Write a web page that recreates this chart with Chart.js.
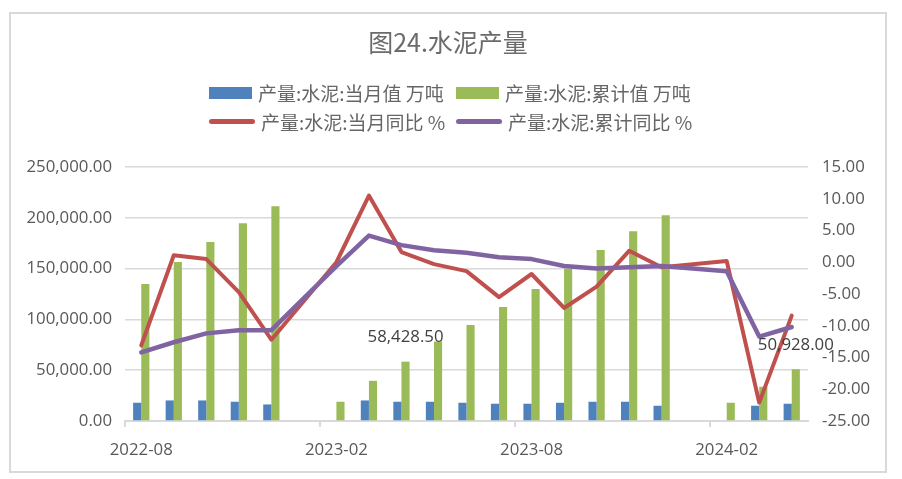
<!DOCTYPE html>
<html lang="zh">
<head>
<meta charset="UTF-8">
<script src="https://cdn.jsdelivr.net/npm/chart.js@4.4.1/dist/chart.umd.min.js"></script>
<title>图24.水泥产量</title>
<style>
  body { margin: 0; background: #fff; }
  .frame {
    position: absolute; left: 9px; top: 12px; width: 878px; height: 461px;
    border: 2px solid #d9d9d9; box-sizing: border-box;
  }
  .wrap { position: absolute; left: 11px; top: 14px; width: 874px; height: 457px; }
  #legend {
    position: absolute; left: 209px; top: 78px;
    display: grid; grid-template-columns: 247px auto; grid-auto-rows: 29px;
    font-family: "Noto Sans CJK SC", sans-serif; font-size: 19px; color: #666;
  }
  #legend .item { display: flex; align-items: center; white-space: nowrap; }
  #legend .sw { margin-right: 6px; flex: none; }
</style>
</head>
<body>
<div class="frame"></div>
<div class="wrap"><canvas id="chart"></canvas></div>
<div id="legend"></div>

<script>
// 2022-08 .. 2024-04
const months = ['2022-08','2022-09','2022-10','2022-11','2022-12','2023-01','2023-02','2023-03','2023-04','2023-05',
  '2023-06','2023-07','2023-08','2023-09','2023-10','2023-11','2023-12','2024-01','2024-02','2024-03','2024-04'];

const monthVal = [17970, 20230, 20230, 18950, 16300, null, null, 20230, 18950, 18950,
  17970, 17000, 17000, 17970, 18950, 18950, 15030, null, null, 15030, 17000];
const cumVal = [134830, 156430, 176070, 194730, 211420, null, 18950, 39570, 58428.5, 78170,
  94570, 112240, 129920, 149850, 168220, 186870, 202590, null, 17970, 33680, 50928];
const monthYoY = [-13.1, 1.1, 0.5, -4.7, -12.2, null, 0.0, 10.5, 1.6, -0.3,
  -1.4, -5.5, -1.85, -7.2, -3.85, 1.8, -0.8, null, 0.2, -22.1, -8.4];
const cumYoY = [-14.2, -12.6, -11.2, -10.7, -10.7, null, -0.6, 4.2, 2.7, 1.9,
  1.5, 0.8, 0.5, -0.6, -1.0, -0.8, -0.6, null, -1.4, -11.7, -10.2];

const labelIdx = [8, 20];   // points carrying a value label on the cumulative bars

const grey = '#595959';
const tickFont = { family: 'Open Sans', size: 16.8 };
const fmt = v => v.toLocaleString('en-US', { minimumFractionDigits: 2, maximumFractionDigits: 2 });

const valueLabels = {
  id: 'valueLabels',
  afterDatasetsDraw(chart) {
    const ctx = chart.ctx;
    const meta = chart.getDatasetMeta(1);
    ctx.save();
    ctx.font = '16.8px "Open Sans"';
    ctx.fillStyle = '#404040';
    ctx.textAlign = 'center';
    ctx.textBaseline = 'middle';
    labelIdx.forEach(i => {
      const bar = meta.data[i];
      ctx.fillText(fmt(cumVal[i]), bar.x, bar.y - 24);
    });
    ctx.restore();
  }
};

const htmlLegend = {
  id: 'htmlLegend',
  afterUpdate(chart) {
    const box = document.getElementById('legend');
    box.innerHTML = '';
    chart.data.datasets.forEach(ds => {
      const item = document.createElement('div');
      item.className = 'item';
      const sw = document.createElement('span');
      sw.className = 'sw';
      if (ds.type === 'line') {
        sw.style.cssText = 'width:46px;height:5px;border-radius:3px;background:' + ds.borderColor;
      } else {
        sw.style.cssText = 'width:43px;height:12px;background:' + ds.backgroundColor;
      }
      const txt = document.createElement('span');
      txt.textContent = ds.label;
      item.appendChild(sw);
      item.appendChild(txt);
      box.appendChild(item);
    });
  }
};

new Chart(document.getElementById('chart'), {
  data: {
    labels: months,
    datasets: [
      { type: 'bar', label: '产量:水泥:当月值 万吨', data: monthVal, backgroundColor: '#4f81bd',
        yAxisID: 'y', order: 2, categoryPercentage: 0.5, barPercentage: 1 },
      { type: 'bar', label: '产量:水泥:累计值 万吨', data: cumVal, backgroundColor: '#9bbb59',
        yAxisID: 'y', order: 2, categoryPercentage: 0.5, barPercentage: 1 },
      { type: 'line', label: '产量:水泥:当月同比 %', data: monthYoY, borderColor: '#c0504d',
        backgroundColor: '#c0504d', borderWidth: 4, pointRadius: 0, spanGaps: true,
        borderJoinStyle: 'round', borderCapStyle: 'round', yAxisID: 'y1', order: 1 },
      { type: 'line', label: '产量:水泥:累计同比 %', data: cumYoY, borderColor: '#8064a2',
        backgroundColor: '#8064a2', borderWidth: 4.5, pointRadius: 0, spanGaps: true,
        borderJoinStyle: 'round', borderCapStyle: 'round', yAxisID: 'y1', order: 0 }
    ]
  },
  options: {
    responsive: true,
    maintainAspectRatio: false,
    animation: false,
    layout: { padding: 0 },
    plugins: {
      legend: { display: false },
      tooltip: { enabled: false },
      title: {
        display: true,
        text: '图24.水泥产量',
        color: '#6b6b6b',
        font: { family: 'Noto Sans CJK SC', size: 25, weight: 'normal' },
        padding: { top: 13, bottom: 110 }
      }
    },
    scales: {
      x: {
        offset: true,
        grid: {
          display: true, drawOnChartArea: false, drawTicks: true, tickLength: 6, lineWidth: 2,
          color: c => (c.index % 6 === 0 ? '#d9d9d9' : 'rgba(0,0,0,0)')
        },
        border: { color: '#d9d9d9', width: 2 },
        ticks: {
          autoSkip: false, maxRotation: 0, color: grey, font: tickFont, padding: 13,
          callback: (v, i) => (i % 6 === 0 ? months[i] : '')
        },
        afterFit: s => { s.height = 50; }
      },
      y: {
        position: 'left',
        min: 0, max: 250000,
        grid: { color: '#d9d9d9', lineWidth: 1.5, drawTicks: false },
        border: { display: false },
        ticks: { stepSize: 50000, color: grey, font: tickFont, padding: 13, callback: v => fmt(v) },
        afterFit: s => { s.width = 114; }
      },
      y1: {
        position: 'right',
        min: -25, max: 15,
        grid: { drawOnChartArea: false, drawTicks: false },
        border: { display: false },
        ticks: { stepSize: 5, color: grey, font: tickFont, padding: 14, callback: v => fmt(v) },
        afterFit: s => { s.width = 77; }
      }
    }
  },
  plugins: [valueLabels, htmlLegend]
});
</script>
</body>
</html>
